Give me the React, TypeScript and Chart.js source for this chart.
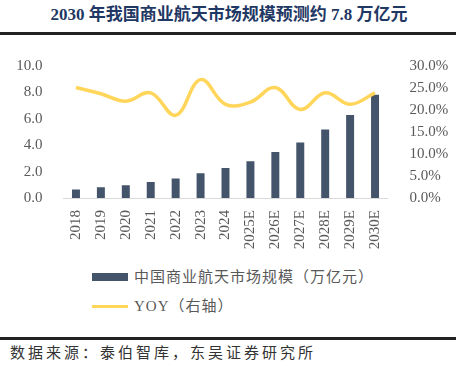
import React, { useEffect, useRef } from "react";
import { Chart, registerables } from "chart.js";

Chart.register(...registerables);

const categories = ["2018", "2019", "2020", "2021", "2022", "2023", "2024", "2025E", "2026E", "2027E", "2028E", "2029E", "2030E"];
const marketSize = [0.64, 0.81, 0.96, 1.21, 1.47, 1.87, 2.27, 2.78, 3.48, 4.2, 5.18, 6.29, 7.83];
const yoy = [25.1, 23.7, 22.0, 23.9, 18.8, 26.9, 21.3, 21.8, 25.1, 20.1, 23.9, 21.3, 23.9];
const leftTicks = { min: 0, max: 10, step: 2 };
const rightTicks = { min: 0, max: 30, step: 5 };

const titleText = "2030 年我国商业航天市场规模预测约 7.8 万亿元";
const barLabel = "中国商业航天市场规模（万亿元）";
const lineLabel = "YOY（右轴）";
const sourceText = "数据来源：泰伯智库，东吴证券研究所";

const BAR_COLOR = "#44546A";
const LINE_COLOR = "#FFD55A";
const TICK_COLOR = "#595959";
const SERIF = "'Liberation Serif', 'Times New Roman', 'Noto Sans CJK SC', serif";
const CJK = "'Liberation Serif', 'Noto Sans CJK SC', sans-serif";

export default function App() {
  const canvasRef = useRef<HTMLCanvasElement | null>(null);

  useEffect(() => {
    if (!canvasRef.current) return;
    const chart = new Chart(canvasRef.current, {
      type: "bar",
      data: {
        labels: categories,
        datasets: [
          {
            type: "line",
            label: lineLabel,
            data: yoy,
            yAxisID: "y1",
            borderColor: LINE_COLOR,
            borderWidth: 3.5,
            pointRadius: 0,
            tension: 0.4,
            order: 0,
          } as any,
          {
            type: "bar",
            label: barLabel,
            data: marketSize,
            yAxisID: "y",
            backgroundColor: BAR_COLOR,
            categoryPercentage: 1,
            barPercentage: 0.32,
            order: 1,
          },
        ],
      },
      options: {
        animation: false,
        responsive: false,
        maintainAspectRatio: false,
        layout: { padding: { top: 26, left: 0, right: 0, bottom: 0 } },
        plugins: { legend: { display: false }, tooltip: { enabled: false }, title: { display: false } },
        scales: {
          x: {
            grid: { display: false },
            border: { display: true, color: "#D9D9D9", width: 1 },
            ticks: {
              color: TICK_COLOR,
              font: { family: SERIF, size: 15 },
              maxRotation: 90,
              minRotation: 90,
              padding: 4,
              autoSkip: false,
            },
            afterFit: (scale: any) => {
              scale.height = 64;
            },
          },
          y: {
            position: "left",
            min: leftTicks.min,
            max: leftTicks.max,
            grid: { display: false },
            border: { display: false },
            ticks: {
              stepSize: leftTicks.step,
              color: TICK_COLOR,
              font: { family: SERIF, size: 15 },
              padding: 13,
              callback: (v: any) => Number(v).toFixed(1),
            },
            afterFit: (scale: any) => {
              scale.width = 63.5;
            },
          },
          y1: {
            position: "right",
            min: rightTicks.min,
            max: rightTicks.max,
            grid: { display: false },
            border: { display: false },
            ticks: {
              stepSize: rightTicks.step,
              color: TICK_COLOR,
              font: { family: SERIF, size: 15 },
              padding: 14,
              callback: (v: any) => Number(v).toFixed(1) + "%",
            },
            afterFit: (scale: any) => {
              scale.width = 68.5;
            },
          },
        },
      },
    });
    return () => chart.destroy();
  }, []);

  return (
    <div style={{ position: "absolute", left: 0, top: 0, width: 456, height: 366, background: "#fff", overflow: "hidden" }}>
      <div
        style={{
          position: "absolute",
          left: 0,
          top: 4,
          width: 456,
          textAlign: "center",
          paddingLeft: 2,
          boxSizing: "border-box",
          fontFamily: CJK,
          fontWeight: "bold",
          fontSize: 17,
          lineHeight: "22px",
          color: "#1F3864",
          whiteSpace: "nowrap",
        }}
      >
        {titleText}
      </div>
      <div style={{ position: "absolute", left: 0, top: 32, width: 456, height: 2.5, background: "#222" }} />
      <div style={{ position: "absolute", left: 0, top: 40, width: 456, height: 222 }}>
        <canvas ref={canvasRef} width={456} height={222} style={{ width: 456, height: 222, display: "block" }} />
      </div>
      <div style={{ position: "absolute", left: 92, top: 273, width: 36, height: 8, background: BAR_COLOR }} />
      <div
        style={{
          position: "absolute",
          left: 134,
          top: 266,
          fontFamily: CJK,
          fontSize: 15,
          letterSpacing: 1,
          lineHeight: "22px",
          color: TICK_COLOR,
          whiteSpace: "nowrap",
        }}
      >
        {barLabel}
      </div>
      <div style={{ position: "absolute", left: 92, top: 305, width: 36, height: 3, background: LINE_COLOR }} />
      <div
        style={{
          position: "absolute",
          left: 134,
          top: 295,
          fontFamily: CJK,
          fontSize: 15,
          letterSpacing: 1,
          lineHeight: "22px",
          color: TICK_COLOR,
          whiteSpace: "nowrap",
        }}
      >
        {lineLabel}
      </div>
      <div style={{ position: "absolute", left: 0, top: 337, width: 456, height: 2.5, background: "#222" }} />
      <div
        style={{
          position: "absolute",
          left: 10,
          top: 342,
          fontFamily: CJK,
          fontSize: 15,
          letterSpacing: 3,
          lineHeight: "22px",
          color: "#333",
          whiteSpace: "nowrap",
        }}
      >
        {sourceText}
      </div>
    </div>
  );
}
